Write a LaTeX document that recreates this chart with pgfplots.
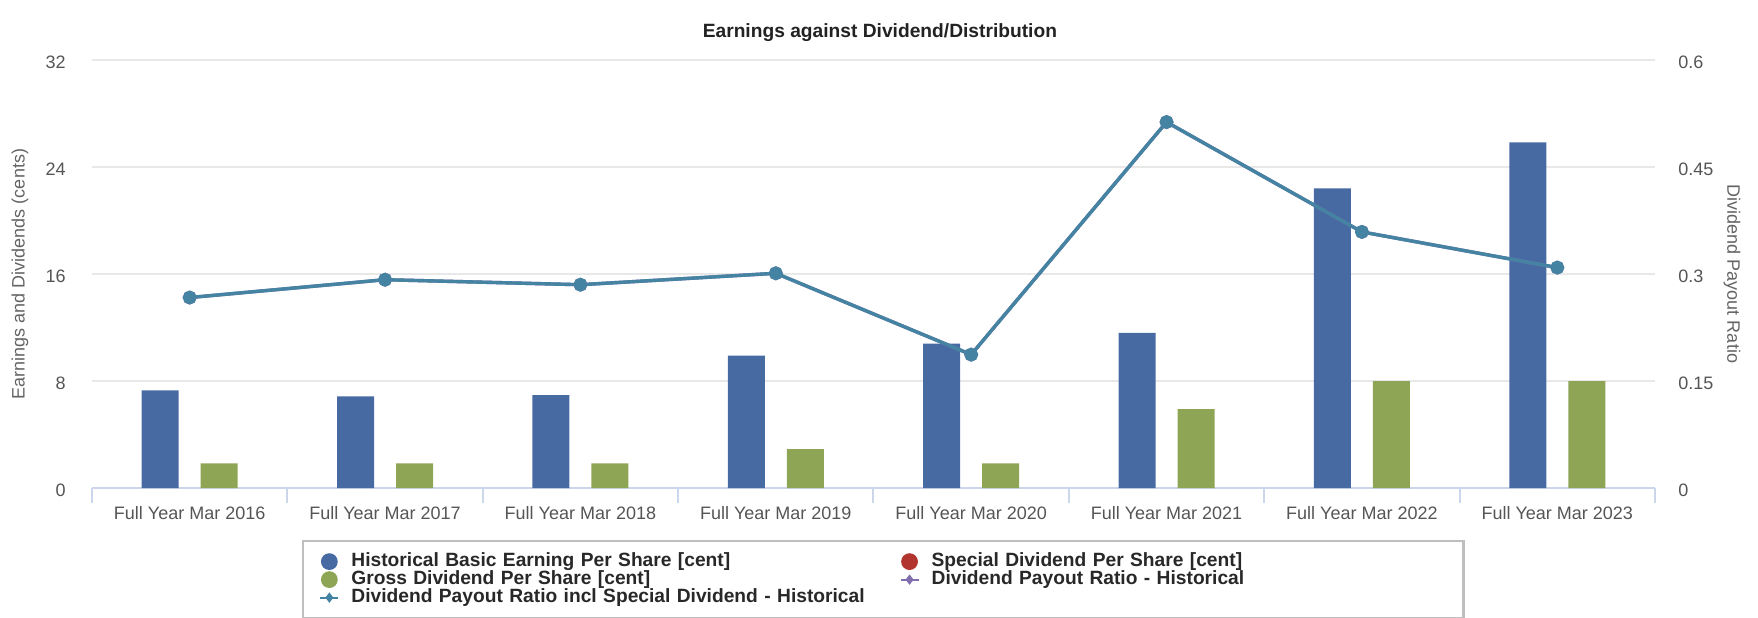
\documentclass[border=0pt]{standalone}
\usepackage{fontspec}
\setmainfont{Liberation Sans}
\usepackage{pgfplots}
\pgfplotsset{compat=1.18}
\definecolor{bluec}{RGB}{72,106,163}
\definecolor{greenc}{RGB}{141,165,85}
\definecolor{tealc}{RGB}{68,132,162}
\definecolor{purplec}{RGB}{128,110,175}
\definecolor{redc}{RGB}{178,52,46}
\definecolor{gridc}{RGB}{232,232,232}
\definecolor{xaxisc}{RGB}{204,214,235}
\definecolor{tickc}{RGB}{85,85,85}
\definecolor{labc}{RGB}{100,100,100}
\definecolor{titc}{RGB}{34,34,34}
\definecolor{legc}{RGB}{40,40,40}
\definecolor{legbox}{RGB}{190,190,190}

\pgfplotstableread{
x eps gross ratio
0 7.3 1.85 0.267
1 6.85 1.85 0.292
2 6.95 1.85 0.285
3 9.9 2.9 0.301
4 10.8 1.85 0.187
5 11.6 5.9 0.513
6 22.4 8.0 0.359
7 25.85 8.0 0.309
}\datatable

\begin{document}
\begin{tikzpicture}
\useasboundingbox (0,0) rectangle (879pt,308.5pt);
\begin{axis}[
  at={(46pt,64.5pt)}, anchor=south west,
  scale only axis, width=781.5pt, height=214pt,
  xmin=-0.5, xmax=7.5, ymin=0, ymax=32,
  axis x line*=bottom, axis y line*=left,
  x axis line style={draw=xaxisc, line width=1pt, -},
  y axis line style={draw=none},
  xtick={0,...,7},
  xticklabels={Full Year Mar 2016,Full Year Mar 2017,Full Year Mar 2018,Full Year Mar 2019,Full Year Mar 2020,Full Year Mar 2021,Full Year Mar 2022,Full Year Mar 2023},
  extra x ticks={-0.5,0.5,1.5,2.5,3.5,4.5,5.5,6.5,7.5},
  extra x tick labels={},
  extra x tick style={tick align=outside, major tick length=7.5pt, tick style={draw=xaxisc, line width=1pt}, grid=none},
  major tick length=0pt,
  ytick={0,8,16,24,32},
  yticklabels={0,8,16,24,32},
  ymajorgrids, grid style={draw=gridc, line width=0.8pt},
  tick label style={font=\fontsize{9}{10}\selectfont, text=tickc},
  xticklabel style={anchor=base, inner sep=0pt, yshift=-15.6pt},
  yticklabel style={anchor=east, inner sep=0pt, xshift=-13pt, yshift=-1pt},
  ylabel={Earnings and Dividends (cents)},
  ylabel style={at={(axis description cs:-0.0461,0.5)}, anchor=center, font=\fontsize{9}{10}\selectfont, text=labc},
  title={Earnings against Dividend/Distribution},
  title style={at={(axis description cs:0.5,1)}, anchor=base, yshift=5.3pt, xshift=3.2pt, font=\fontsize{9.6}{11}\selectfont\bfseries, text=titc},
]
\addplot[ybar, bar width=18.5pt, bar shift=-14.75pt, fill=bluec, draw=none] table[x=x, y=eps] {\datatable};
\addplot[ybar, bar width=18.5pt, bar shift=14.75pt, fill=greenc, draw=none] table[x=x, y=gross] {\datatable};
\end{axis}
\begin{axis}[
  at={(46pt,64.5pt)}, anchor=south west,
  scale only axis, width=781.5pt, height=214pt,
  xmin=-0.5, xmax=7.5, ymin=0, ymax=0.6,
  axis x line=none, axis y line*=right,
  y axis line style={draw=none},
  major tick length=0pt,
  ytick={0,0.15,0.3,0.45,0.6},
  yticklabels={0,0.15,0.3,0.45,0.6},
  tick label style={font=\fontsize{9}{10}\selectfont, text=tickc},
  yticklabel style={anchor=west, inner sep=0pt, xshift=11.5pt, yshift=-1pt},
  ylabel={Dividend Payout Ratio},
  ylabel style={at={(axis description cs:1.0493,0.5)}, anchor=center, rotate=180, font=\fontsize{9}{10}\selectfont, text=labc},
  legend columns=2,
  legend cell align=left,
  legend style={at={(axis description cs:0.1344,-0.1206)}, anchor=north west,
    draw=legbox, line width=1.2pt, inner xsep=8pt, inner ysep=6pt,
    font=\fontsize{9.6}{10}\selectfont\bfseries, text=legc,
    nodes={inner sep=0pt, text height=6.8pt, text depth=2.0pt, text width=258pt, align=left},
    row sep=0.2pt,
    /tikz/every odd column/.append style={column sep=6pt},
    /tikz/every even column/.append style={column sep=16pt}},
]
\addplot[purplec, line width=1.7pt, mark=*, mark size=2.6pt, forget plot] table[x=x, y=ratio] {\datatable};
\addplot[tealc, line width=1.7pt, mark=*, mark size=2.6pt, forget plot] table[x=x, y=ratio] {\datatable};
\addlegendimage{legend image code/.code={\path[draw=none, fill=none] (-4.5pt,-4pt) rectangle (4.5pt,4pt); \fill[bluec, draw=none] (0,0) circle (4.2pt);}}
\addlegendentry{Historical Basic Earning Per Share [cent]}
\addlegendimage{legend image code/.code={\path[draw=none, fill=none] (-4.5pt,-4pt) rectangle (4.5pt,4pt); \fill[redc, draw=none] (0,0) circle (4.2pt);}}
\addlegendentry{Special Dividend Per Share [cent]}
\addlegendimage{legend image code/.code={\path[draw=none, fill=none] (-4.5pt,-4pt) rectangle (4.5pt,4pt); \fill[greenc, draw=none] (0,0) circle (4.2pt);}}
\addlegendentry{Gross Dividend Per Share [cent]}
\addlegendimage{legend image code/.code={\path[draw=none, fill=none] (-4.5pt,-4pt) rectangle (4.5pt,4pt); \draw[purplec, line width=1.1pt] (-4.5pt,0)--(4.5pt,0); \fill[purplec, draw=none] (0,2.6pt)--(2pt,0)--(0,-2.6pt)--(-2pt,0)--cycle;}}
\addlegendentry{Dividend Payout Ratio - Historical}
\addlegendimage{legend image code/.code={\path[draw=none, fill=none] (-4.5pt,-4pt) rectangle (4.5pt,4pt); \draw[tealc, line width=1.1pt] (-4.5pt,0)--(4.5pt,0); \fill[tealc, draw=none] (0,2.6pt)--(2pt,0)--(0,-2.6pt)--(-2pt,0)--cycle;}}
\addlegendentry{Dividend Payout Ratio incl Special Dividend - Historical}
\end{axis}
\end{tikzpicture}
\end{document}
